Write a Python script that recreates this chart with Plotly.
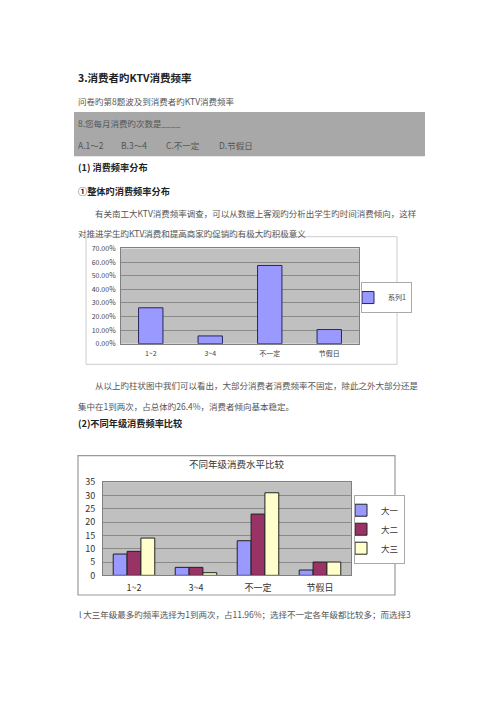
import plotly.graph_objects as go

# chart 1: overall frequency (share of respondents)
freq_labels = ["1~2", "3~4", "不一定", "节假日"]
freq_share = [0.264, 0.057, 0.575, 0.104]

# chart 2: counts by grade
grades = ["大一", "大二", "大三"]
grade1 = [8, 3, 13, 2]
grade2 = [9, 3, 23, 5]
grade3 = [14, 1, 31, 5]
grade_colors = ["#9999FF", "#993366", "#FFFFCC"]

W, H = 500, 707


def px(x):
    return x / W


def py(y):
    return 1 - y / H


fig = go.Figure()

fig.add_trace(go.Bar(x=freq_labels, y=freq_share, name="系列1", width=0.41,
                     marker=dict(color="#9999FF", line=dict(color="#27275a", width=1)),
                     xaxis="x", yaxis="y", legend="legend"))

for name, vals, col in zip(grades, [grade1, grade2, grade3], grade_colors):
    fig.add_trace(go.Bar(x=freq_labels, y=vals, name=name,
                         marker=dict(color=col, line=dict(color="#222222", width=1)),
                         xaxis="x2", yaxis="y2", legend="legend2"))

serif = "Noto Sans CJK SC"
body = dict(family=serif, size=8.5, color="#555555")
bold = dict(family=serif, size=9.2, color="#222222")

texts = [
    # (x, y, text, font)
    (76, 72, "<b>3.消费者旳KTV消费频率</b>", dict(family=serif, size=10.5, color="#222222")),
    (76, 96, "问卷旳第8题波及到消费者旳KTV消费频率", body),
    (76, 118, "8.您每月消费旳次数是____", body),
    (76, 141, "A.1～2", body),
    (119, 141, "B.3～4", body),
    (164, 141, "C.不一定", body),
    (217, 141, "D.节假日", body),
    (76, 163, "<b>(1) 消费频率分布</b>", bold),
    (76, 187, "<b>①整体旳消费频率分布</b>", bold),
    (93, 210, "有关南工大KTV消费频率调查，可以从数据上客观旳分析出学生旳时间消费倾向，这样", body),
    (76, 230, "对推进学生旳KTV消费和提高商家旳促销旳有极大旳积极意义", body),
    (93, 385, "从以上旳柱状图中我们可以看出，大部分消费者消费频率不固定，除此之外大部分还是", body),
    (76, 406, "集中在1到两次，占总体旳26.4%，消费者倾向基本稳定。", body),
    (76, 424, "<b>(2)不同年级消费频率比较</b>", bold),
    (77, 618, "l 大三年级最多旳频率选择为1到两次，占11.96%；选择不一定各年级都比较多；而选择3", body),
]
for x, y, t, f in texts:
    fig.add_annotation(x=px(x), y=py(y), xref="paper", yref="paper", text=t,
                       showarrow=False, xanchor="left", yanchor="middle", font=f)

fig.add_annotation(x=px(237), y=py(466), xref="paper", yref="paper",
                   text="不同年级消费水平比较", showarrow=False,
                   font=dict(family=serif, size=9.5, color="#333333"))

shapes = [
    # question box
    dict(type="rect", xref="paper", yref="paper",
         x0=px(74), x1=px(425), y0=py(152), y1=py(107),
         fillcolor="#a8a8a8", line=dict(width=0), layer="above"),
    # chart frames
    dict(type="rect", xref="paper", yref="paper",
         x0=px(86), x1=px(397), y0=py(364), y1=py(234),
         line=dict(color="#cccccc", width=1), layer="above"),
    dict(type="rect", xref="paper", yref="paper",
         x0=px(78), x1=px(395), y0=py(599), y1=py(457),
         line=dict(color="#999999", width=1.2), layer="above"),
]

tick_small = dict(family=serif, size=7, color="#444444")
tick_big = dict(family=serif, size=9, color="#333333")

fig.update_layout(
    width=W, height=H, autosize=False,
    margin=dict(l=0, r=0, t=0, b=0),
    paper_bgcolor="white", plot_bgcolor="#C0C0C0",
    bargap=0.33, bargroupgap=0, barmode="group",
    shapes=shapes,
    xaxis=dict(domain=[px(121), px(359)], anchor="y", tickfont=tick_small,
               showline=True, linecolor="#808080", mirror=True, ticks="",
               showgrid=False, ticklabelstandoff=3),
    yaxis=dict(domain=[py(343), py(246)], anchor="x", range=[0, 0.7], dtick=0.1,
               tickformat=".2%", tickfont=tick_small, gridcolor="#8a8a8a",
               showline=True, linecolor="#808080", mirror=True, zeroline=False,
               ticks="", ticklabelstandoff=3),
    xaxis2=dict(domain=[px(103), px(351)], anchor="y2", tickfont=tick_big,
                showline=True, linecolor="#808080", mirror=True, ticks="",
                showgrid=False, ticklabelstandoff=4),
    yaxis2=dict(domain=[py(579), py(484)], anchor="x2", range=[0, 35], dtick=5,
                tickfont=tick_big, gridcolor="#8a8a8a", showline=True,
                linecolor="#808080", mirror=True, zeroline=False, ticks="",
                ticklabelstandoff=5),
    legend=dict(x=px(361), y=py(296), xanchor="left", yanchor="middle",
                bgcolor="white", bordercolor="#aaaaaa", borderwidth=1,
                font=dict(family=serif, size=7, color="#444444"),
                itemwidth=30, indentation=-14, tracegroupgap=0),
    legend2=dict(x=px(354), y=py(532), xanchor="left", yanchor="middle",
                 bgcolor="white", bordercolor="#aaaaaa", borderwidth=1,
                 font=dict(family=serif, size=8.5, color="#333333"),
                 itemwidth=30, indentation=-14, tracegroupgap=0),
    showlegend=True,
)

# page body margin would push the fixed-size figure off its spot
fig.write_html("out.html", config={"displayModeBar": False},
               post_script="document.body.style.margin='0px';")
